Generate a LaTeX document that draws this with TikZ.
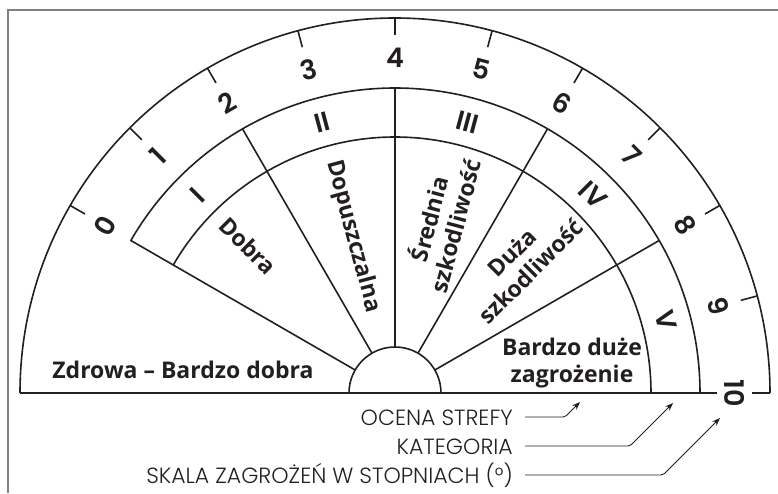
\documentclass[tikz,border=0pt]{standalone}
\usepackage{fontspec}
\setmainfont{Open Sans}
\newfontfamily\numfont{Poppins SemiBold}
\newfontfamily\capfont{Poppins Light}
\usetikzlibrary{arrows.meta}

\definecolor{ink}{HTML}{231F20}

\begin{document}
\begin{tikzpicture}[x=1pt, y=1pt,
    chart/.style={draw=ink, line width=1.6pt},
    baseln/.style={draw=ink, line width=2.6pt},
    numlbl/.style={inner sep=0pt, text=ink, font=\numfont\fontsize{27}{27}\selectfont},
    catlbl/.style={inner sep=0pt, text=ink, font=\numfont\fontsize{27}{27}\selectfont},
    zonelbl/.style={inner sep=0pt, text=ink, align=center, font=\bfseries\fontsize{23}{27}\selectfont},
    keylbl/.style={inner sep=0pt, anchor=base east, text=ink, font=\capfont\fontsize{22}{22}\selectfont},
    pointer/.style={draw=ink, line width=0.9pt, rounded corners=2pt, -{Stealth[length=8pt, width=6pt]}}]
    \def\rout{375}
    \def\rscale{305}
    \def\rcat{256}
    \def\rhub{46}

    \useasboundingbox (-395,-100) rectangle (383,393);
    % frame
    \draw[gray, line width=1.2pt] (-387,-100) -- (-387,383) -- (383,383);

    % rings
    \draw[chart] (\rout,0) arc[start angle=0, end angle=180, radius=\rout];
    \draw[chart] (\rscale,0) arc[start angle=0, end angle=150, radius=\rscale] -- (150:\rhub);
    \draw[chart] (\rcat,0) arc[start angle=0, end angle=150, radius=\rcat];
    \draw[chart] (\rhub,0) arc[start angle=0, end angle=180, radius=\rhub];
    \foreach \a in {30,60,90,120}
        \draw[chart] (\a:\rhub) -- (\a:\rscale);
    \draw[baseln] (-\rout,0) -- (322,0);
    \draw[baseln] (357,0) -- (\rout,0);

    % scale 0..10
    \foreach \n [evaluate=\n as \a using 150-15*\n] in {0,...,9} {
        \draw[chart] (\a:\rout) -- (\a:358);
        \node[numlbl, rotate=\a-90] (deg\n) at (\a:335) {\n};
    }
    \node[numlbl, rotate=-90] (deg10) at (0:340) {10};

    % categories
    \node[catlbl, rotate=45] (catI) at (135:280) {I};
    \node[catlbl, rotate=15] (catII) at (105:280) {II};
    \node[catlbl, rotate=-15] (catIII) at (75:280) {III};
    \node[catlbl, rotate=-45] (catIV) at (45:280) {IV};
    \node[catlbl, rotate=-75] (catV) at (15:281) {V};

    % zones
    \node[zonelbl, anchor=base] (zdrowa) at (-212,15) {Zdrowa -- Bardzo dobra};
    \node[zonelbl, rotate=-45] (dobra) at (135:208) {Dobra};
    \node[zonelbl, rotate=-75] (dopusz) at (105:162) {Dopuszczalna};
    \node[zonelbl, rotate=75] (srednia) at (75:177) {Średnia\\szkodliwość};
    \node[zonelbl, rotate=45] (duza) at (46:182) {Duża\\szkodliwość};
    \node[zonelbl] (bdz) at (177,30) {Bardzo duże\\zagrożenie};

    % key
    \node[keylbl] (ocena) at (118,-32) {OCENA STREFY};
    \node[keylbl] (kateg) at (118,-61) {KATEGORIA};
    \node[keylbl] (skala) at (118,-90) {SKALA ZAGROŻEŃ W STOPNIACH (°)};
    \coordinate (ocenatip) at (185,-9);
    \coordinate (kategtip) at (278,-10);
    \coordinate (skalatip) at (325,-25);
    \draw[pointer] ([shift={(12pt,8pt)}]ocena.base east) -- ([shift={(52pt,8pt)}]ocena.base east) -- (ocenatip);
    \draw[pointer] ([shift={(12pt,8pt)}]kateg.base east) -- ([shift={(117pt,8pt)}]kateg.base east) -- (kategtip);
    \draw[pointer] ([shift={(12pt,8pt)}]skala.base east) -- ([shift={(150pt,8pt)}]skala.base east) -- (skalatip);
\end{tikzpicture}
\end{document}
